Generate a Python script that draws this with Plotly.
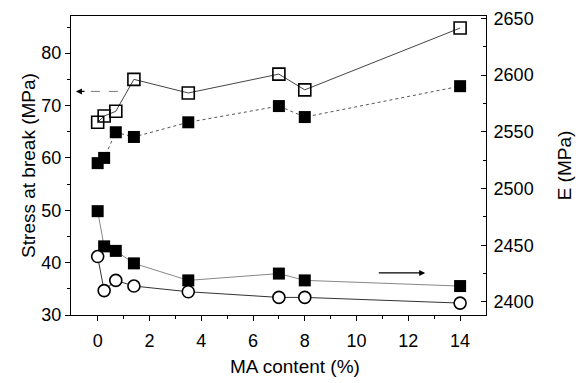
import plotly.graph_objects as go

ma_content = [0, 0.25, 0.7, 1.4, 3.5, 7, 8, 14]

stress_open = [66.8, 68.0, 68.9, 75.0, 72.4, 76.0, 73.0, 84.8]
stress_filled = [59.0, 60.0, 64.9, 64.0, 66.8, 69.9, 67.8, 73.7]
modulus_filled = [2480, 2449, 2445, 2434, 2419, 2425, 2419, 2414]
modulus_circle = [2440, 2410, 2419, 2414, 2409, 2404, 2404, 2399]

FONT = "Liberation Sans, Arial, sans-serif"

fig = go.Figure()

fig.add_trace(go.Scatter(
    x=ma_content, y=stress_open, mode="lines+markers",
    line=dict(color="#444", width=1),
    marker=dict(symbol="square-open", size=12, color="black", line=dict(width=1.6)),
    showlegend=False))
fig.add_trace(go.Scatter(
    x=ma_content, y=stress_filled, mode="lines+markers",
    line=dict(color="#555", width=1, dash="dot"),
    marker=dict(symbol="square", size=12, color="black"),
    showlegend=False))
fig.add_trace(go.Scatter(
    x=ma_content, y=modulus_filled, mode="lines+markers", yaxis="y2",
    line=dict(color="#888", width=1),
    marker=dict(symbol="square", size=12, color="black"),
    showlegend=False))
fig.add_trace(go.Scatter(
    x=ma_content, y=modulus_circle, mode="lines+markers", yaxis="y2",
    line=dict(color="#333", width=1),
    marker=dict(symbol="circle", size=12, color="white", line=dict(color="black", width=1.6)),
    showlegend=False))

# left-pointing arrow (stress axis)
fig.add_shape(type="line", xref="x", yref="y", x0=0.78, x1=-0.6, y0=72.7, y1=72.7,
              line=dict(color="#777", width=1, dash="dash"))
fig.add_annotation(x=-0.84, y=72.7, ax=-0.45, ay=72.7, xref="x", yref="y",
                   axref="x", ayref="y", text="", showarrow=True,
                   arrowhead=2, arrowsize=1, arrowwidth=1.2, arrowcolor="black")
# right-pointing arrow (modulus axis)
fig.add_annotation(x=12.65, y=2425.6, ax=10.8, ay=2425.6, xref="x", yref="y2",
                   axref="x", ayref="y2", text="", showarrow=True,
                   arrowhead=2, arrowsize=1, arrowwidth=1.2, arrowcolor="black")
# x-axis title
fig.add_annotation(x=0.54, y=-0.172, xref="paper", yref="paper", text="MA content (%)",
                   showarrow=False, xanchor="center", yanchor="middle",
                   font=dict(size=19, family=FONT, color="black"))

fig.update_layout(
    width=578, height=383,
    margin=dict(l=71, r=92, t=16, b=68, autoexpand=False),
    paper_bgcolor="white", plot_bgcolor="white",
    font=dict(family=FONT, size=18, color="black"),
    xaxis=dict(range=[-1.03, 15.0], tickvals=[0, 2, 4, 6, 8, 10, 12, 14],
               ticks="outside", ticklen=5, tickcolor="black", automargin=False,
               minor=dict(tickvals=[1, 3, 5, 7, 9, 11, 13], ticks="outside", ticklen=3, tickcolor="black"),
               showline=True, linecolor="black", linewidth=1, mirror=True,
               showgrid=False, zeroline=False, ticklabelstandoff=4),
    yaxis=dict(range=[30, 87.1], tickvals=[30, 40, 50, 60, 70, 80],
               ticks="outside", ticklen=5, tickcolor="black", automargin=False,
               minor=dict(tickvals=[35, 45, 55, 65, 75, 85], ticks="outside", ticklen=3, tickcolor="black"),
               showline=True, linecolor="black", linewidth=1,
               showgrid=False, zeroline=False,
               title=dict(text="Stress at break (MPa)", font=dict(size=19), standoff=0)),
    yaxis2=dict(range=[2388.5, 2652], tickvals=[2400, 2450, 2500, 2550, 2600, 2650],
                overlaying="y", side="right", automargin=False,
                ticks="inside", ticklen=5, tickcolor="black", ticklabelstandoff=3,
                minor=dict(tickvals=[2425, 2475, 2525, 2575, 2625], ticks="inside", ticklen=3, tickcolor="black"),
                showline=True, linecolor="black", linewidth=1,
                showgrid=False, zeroline=False,
                title=dict(text="E (MPa)", font=dict(size=19), standoff=25)),
)

fig.write_html("out.html", config={"displayModeBar": False},
               post_script="document.body.style.margin='0';")
